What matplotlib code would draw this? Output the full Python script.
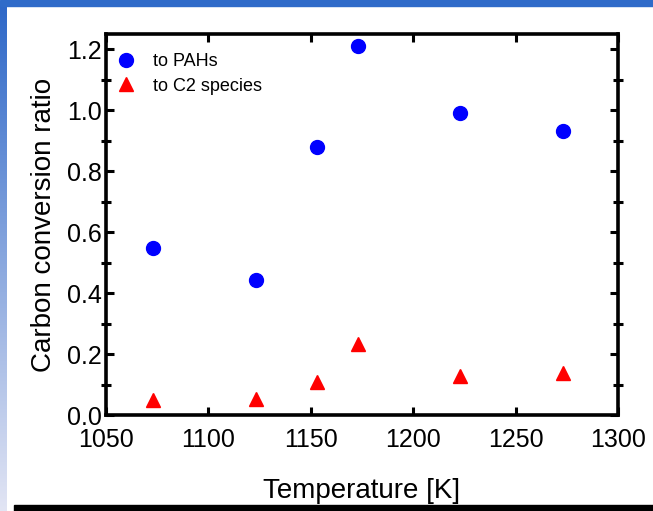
import numpy as np
import matplotlib
matplotlib.use("Agg")
import matplotlib.pyplot as plt
from matplotlib.patches import Rectangle
from matplotlib.ticker import MultipleLocator

plt.rcParams['font.family'] = ['Liberation Sans', 'DejaVu Sans']

# data
temperature = [1073, 1123, 1153, 1173, 1223, 1273]
to_pahs = [0.549, 0.443, 0.880, 1.211, 0.991, 0.932]
to_c2 = [0.049, 0.053, 0.108, 0.233, 0.128, 0.139]
labels = ["to PAHs", "to C2 species"]

W, H = 653, 511
fig = plt.figure(figsize=(W / 100, H / 100), dpi=100)

# slide-like frame: blue top bar, gradient strip on the left, black bar at bottom
fig.patches.append(Rectangle((0, 1 - 6 / H), 1, 6 / H, transform=fig.transFigure,
                             color='#2F6BC9', zorder=0))
strip = fig.add_axes([0, 0, 7 / W, 1 - 6 / H])
grad = np.linspace(0, 1, 256).reshape(-1, 1)
top_c = np.array([0x2E, 0x68, 0xC8]) / 255
bot_c = np.array([0xE2, 0xE5, 0xF4]) / 255
img = (1 - grad)[:, :, None] * top_c + grad[:, :, None] * bot_c
strip.imshow(img, aspect='auto', extent=[0, 1, 0, 1])
strip.axis('off')
fig.patches.append(Rectangle((14 / W, 0), 1, 6 / H, transform=fig.transFigure,
                             color='black', zorder=0))

ax = fig.add_axes([106 / W, 1 - 415 / H, 512 / W, 381 / H])
ax.plot(temperature, to_pahs, 'o', color='blue', ms=10, label=labels[0])
ax.plot(temperature, to_c2, '^', color='red', ms=10, label=labels[1])

ax.set_xlim(1050, 1300)
ax.set_ylim(0, 1.25)
ax.xaxis.set_major_locator(MultipleLocator(50))
ax.yaxis.set_major_locator(MultipleLocator(0.2))
ax.yaxis.set_minor_locator(MultipleLocator(0.1))
ax.yaxis.set_major_formatter(lambda v, p: f"{v:.1f}")

for s in ax.spines.values():
    s.set_linewidth(2.6)
ax.tick_params(which='major', direction='in', length=6, width=2.2,
               top=True, right=True, labelsize=18)
ax.tick_params(axis='x', which='major', pad=9)
ax.tick_params(axis='y', which='major', pad=3)
ax.tick_params(axis='y', which='minor', direction='inout', length=7, width=2.2,
               left=True, right=True)

ax.set_xlabel("Temperature [K]", fontsize=20, labelpad=19)
ax.set_ylabel("Carbon conversion ratio", fontsize=20, labelpad=7)

ax.legend(loc='upper left', bbox_to_anchor=(0.0215, 0.949), frameon=False,
          fontsize=13, handletextpad=0.99, borderaxespad=0, borderpad=0,
          labelspacing=0.4, handlelength=1.0)

fig.savefig("out.png", dpi=100)
